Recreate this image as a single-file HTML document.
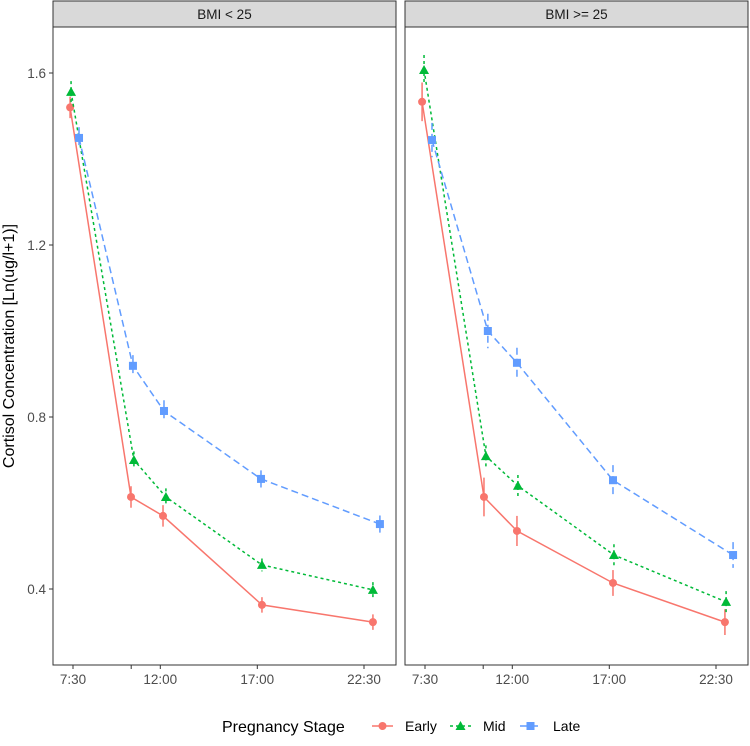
<!DOCTYPE html>
<html><head><meta charset="utf-8"><style>
body{margin:0;background:#fff;font-family:"Liberation Sans",sans-serif}
</style></head><body>
<svg id="c" width="750" height="741" xmlns="http://www.w3.org/2000/svg" font-family="Liberation Sans, sans-serif"></svg>
<script>
const panels=["BMI < 25","BMI >= 25"];
const yTicks=[0.4,0.8,1.2,1.6];
const xTicks=[7.5,10.5,12,17,22.5];
const xTickLabels=["7:30","","12:00","17:00","22:30"];
const stages=["Early","Mid","Late"];
// left panel
const p1EarlyX=[7.35,10.49,12.14,17.24,22.96];
const p1EarlyY=[1.52,0.614,0.570,0.363,0.323];
const p1EarlySe=[0.025,0.025,0.025,0.018,0.018];
const p1MidX=[7.40,10.64,12.29,17.24,22.96];
const p1MidY=[1.556,0.70,0.614,0.456,0.398];
const p1MidSe=[0.025,0.02,0.02,0.015,0.018];
const p1LateX=[7.81,10.59,12.19,17.19,23.32];
const p1LateY=[1.449,0.919,0.814,0.656,0.551];
const p1LateSe=[0.025,0.025,0.025,0.02,0.02];
// right panel
const p2EarlyX=[7.35,10.54,12.24,17.19,22.96];
const p2EarlyY=[1.533,0.614,0.535,0.414,0.323];
const p2EarlySe=[0.045,0.045,0.035,0.03,0.03];
const p2MidX=[7.45,10.64,12.29,17.24,23.02];
const p2MidY=[1.607,0.709,0.640,0.479,0.370];
const p2MidSe=[0.035,0.025,0.025,0.025,0.025];
const p2LateX=[7.86,10.74,12.24,17.19,23.38];
const p2LateY=[1.444,1.0,0.926,0.653,0.479];
const p2LateSe=[0.04,0.04,0.035,0.035,0.03];

const series=[
 [[p1EarlyX,p1EarlyY,p1EarlySe],[p1MidX,p1MidY,p1MidSe],[p1LateX,p1LateY,p1LateSe]],
 [[p2EarlyX,p2EarlyY,p2EarlySe],[p2MidX,p2MidY,p2MidSe],[p2LateX,p2LateY,p2LateSe]]];
const colors=["#F8766D","#00BA38","#619CFF"];
const dashes=["","3,3","7,4"];
const svg=document.getElementById('c');
const NS="http://www.w3.org/2000/svg";
function mk(t,a,p){const e=document.createElementNS(NS,t);for(const k in a)e.setAttribute(k,a[k]);(p||svg).appendChild(e);return e;}
const panelLeft=[53,405],panelW=343,plotTop=27,plotBottom=665;
function yS(v){return 73+(1.6-v)*430;}
function xS(h,pi){return panelLeft[pi]+20+(h-7.5)*19.4;}
function marker(g,i,x,y){
 let e;
 if(i===0)e=mk('circle',{cx:x,cy:y,r:4,fill:colors[0]},g);
 else if(i===1)e=mk('polygon',{points:`${x},${y-5} ${x-5},${y+4} ${x+5},${y+4}`,fill:colors[1]},g);
 else e=mk('rect',{x:x-4,y:y-4,width:8,height:8,fill:colors[2]},g);
 return e;
}
panels.forEach((name,pi)=>{
 const L=panelLeft[pi];
 const g=mk('g',{});
 
 
 const strip=mk('rect',{x:L,y:1,width:panelW,height:plotTop-1,fill:'#d9d9d9',stroke:'#333','stroke-width':1},g);
 
 
 const st=mk('text',{x:L+panelW/2,y:19,'text-anchor':'middle','font-size':13.5,fill:'#1a1a1a'},g);
 st.textContent=name;
 
 
 const bd=mk('rect',{x:L,y:plotTop,width:panelW,height:plotBottom-plotTop,fill:'none',stroke:'#333','stroke-width':1},g);
 
 
 xTicks.forEach((t,k)=>{
  const x=xS(t,pi);
  mk('line',{x1:x,x2:x,y1:plotBottom,y2:plotBottom+4,stroke:'#333'},g);
  const tl=mk('text',{x:x,y:plotBottom+19,'text-anchor':'middle','font-size':13.5,fill:'#4d4d4d'},g);
  tl.textContent=xTickLabels[k];
  
  
 });
 if(pi===0){
  yTicks.forEach(t=>{
   const y=yS(t);
   mk('line',{x1:L-4,x2:L,y1:y,y2:y,stroke:'#333'},g);
   const tl=mk('text',{x:L-7,y:y+5,'text-anchor':'end','font-size':13.5,fill:'#4d4d4d'},g);
   tl.textContent=t.toFixed(1);
   
   
  });
 }
 series[pi].forEach((s,i)=>{
  const [xs,ys,se]=s;
  const sg=mk('g',{},g);
  
  
  const pts=xs.map((h,k)=>xS(h,pi)+','+yS(ys[k])).join(' ');
  const a={points:pts,fill:'none',stroke:colors[i],'stroke-width':1.5};
  if(dashes[i])a['stroke-dasharray']=dashes[i];
  mk('polyline',a,sg);
  xs.forEach((h,k)=>{
   const x=xS(h,pi);
   const ea={x1:x,x2:x,y1:yS(ys[k]+se[k]),y2:yS(ys[k]-se[k]),stroke:colors[i],'stroke-width':1.5};
   if(dashes[i])ea['stroke-dasharray']=dashes[i];
   mk('line',ea,sg);
   const m=marker(sg,i,x,yS(ys[k]));
   
   
  });
 });
});
const yt=mk('text',{x:0,y:0,transform:'translate(14,346) rotate(-90)','text-anchor':'middle','font-size':16,fill:'#000'});
yt.textContent='Cortisol Concentration [Ln(ug/l+1)]';


const lg=mk('g',{});


const ltt=mk('text',{x:222,y:732,'font-size':16,fill:'#000'},lg);
ltt.textContent='Pregnancy Stage';


const keyX=[372,450,520],txtX=[405,483,553];
stages.forEach((s,i)=>{
 const eg=mk('g',{},lg);
 
 
 const a={x1:keyX[i],x2:keyX[i]+21,y1:726,y2:726,stroke:colors[i],'stroke-width':1.5};
 if(dashes[i])a['stroke-dasharray']=dashes[i];
 mk('line',a,eg);
 marker(eg,i,keyX[i]+10.5,726);
 const t=mk('text',{x:txtX[i],y:731,'font-size':14,fill:'#000'},eg);
 t.textContent=s;
});
</script>
</body></html>
